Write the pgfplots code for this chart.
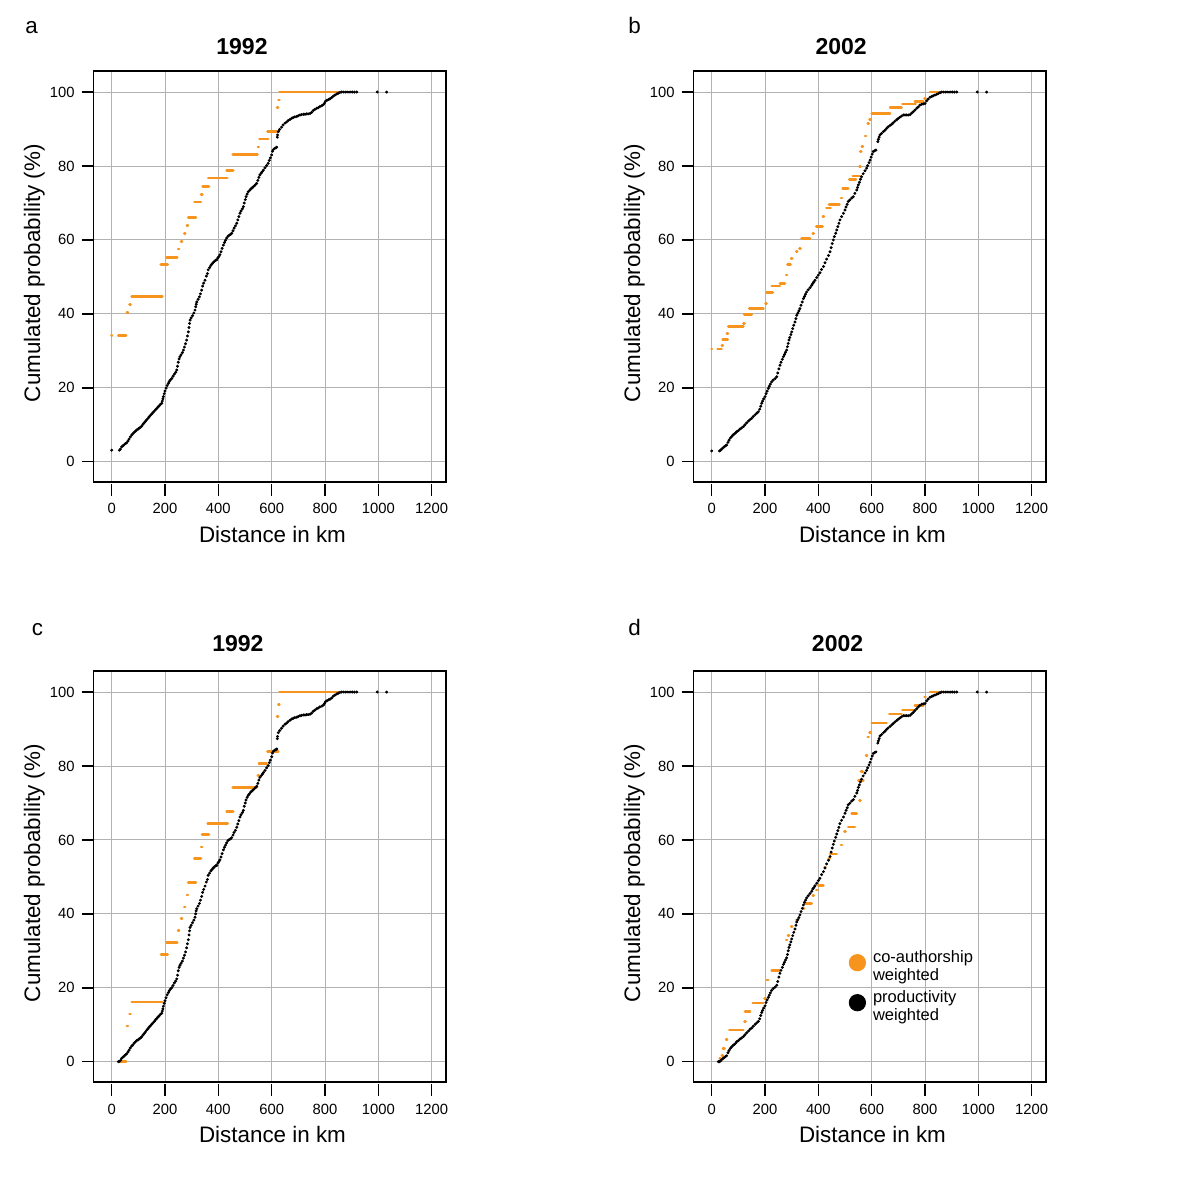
\documentclass[border=0pt]{standalone}
\usepackage{fontspec}
\setmainfont{Liberation Sans}
\usepackage{pgfplots}
\pgfplotsset{compat=1.18}
\definecolor{orangec}{RGB}{247,148,30}
\pgfplotsset{
  every axis title/.style={},
  panel/.style={
    scale only axis, width=176.35pt, height=205.5pt,
    xmin=-68.9, xmax=1253.7, ymin=-5.5, ymax=105.7,
    xtick={0,200,400,600,800,1000,1200},
    xticklabels={0,200,400,600,800,1000,1200},
    ytick={0,20,40,60,80,100},
    yticklabels={0,20,40,60,80,100},
    grid=major, major grid style={draw=black!30, line width=0.45pt},
    tick align=outside, tick pos=left, major tick length=5.8pt,
    every tick/.style={black, line width=0.8pt},
    xtick style={yshift=-1.15pt},
    axis line style={line width=0.75pt},
    tick label style={font=\fontsize{7.4}{8}\selectfont},
    xticklabel style={yshift=-1.5pt},
    label style={font=\fontsize{11.2}{13}\selectfont},
    xlabel={Distance in km}, ylabel={Cumulated probability (\%)},
    xlabel style={at={(axis description cs:0.508,-0.1484)}, anchor=base},
    ylabel style={at={(axis description cs:-0.1511,0.508)}, anchor=base},
    title style={font=\bfseries\fontsize{11.5}{13}\selectfont, anchor=base},
    unbounded coords=jump,
  },
  blk/.style={only marks, mark=*, mark size=0.52pt, black, forget plot},
  org/.style={orangec, line width=1.3pt, line cap=round, forget plot},
}
\begin{document}
\begin{tikzpicture}
\useasboundingbox (0,0) rectangle (600pt,600pt);
\node[anchor=base west, inner sep=0pt, font=\fontsize{11.2}{13}\selectfont] at (12.5pt,583.3pt) {a};
\node[anchor=base west, inner sep=0pt, font=\fontsize{11.2}{13}\selectfont] at (314pt,583.3pt) {b};
\node[anchor=base west, inner sep=0pt, font=\fontsize{11.2}{13}\selectfont] at (15.8pt,282pt) {c};
\node[anchor=base west, inner sep=0pt, font=\fontsize{11.2}{13}\selectfont] at (314pt,282pt) {d};

% ---------------- a ----------------
\begin{axis}[panel, at={(46.65pt,359pt)}, anchor=south west,
  title={1992}, title style={at={(axis description cs:0.4216,1)}, yshift=8pt}]
\addplot[org] coordinates {
(-1,34.1)(1,34.1) (nan,nan)
(25,34.1)(54,34.1) (nan,nan)
(57,40.4)(61,40.4) (nan,nan)
(67,42.5)(71,42.5) (nan,nan)
(75,44.7)(190,44.7) (nan,nan)
(184,53.3)(210,53.3) (nan,nan)
(206,55.3)(246,55.3) (nan,nan)
(249,57.5)(253,57.5) (nan,nan)
(260,59.6)(264,59.6) (nan,nan)
(272,61.8)(276,61.8) (nan,nan)
(282,63.9)(286,63.9) (nan,nan)
(287,66.0)(316,66.0) (nan,nan)
(310,70.3)(335,70.3) (nan,nan)
(335,72.3)(340,72.3) (nan,nan)
(341,74.5)(365,74.5) (nan,nan)
(362,76.7)(434,76.7) (nan,nan)
(431,78.8)(456,78.8) (nan,nan)
(454,83.1)(547,83.1) (nan,nan)
(548,85.1)(552,85.1) (nan,nan)
(554,87.3)(587,87.3) (nan,nan)
(584,89.4)(625,89.4) (nan,nan)
(620,95.8)(624,95.8) (nan,nan)
(625,97.9)(629,97.9) (nan,nan)
(629,100)(869,100)
};
\addplot[blk] coordinates {
(0,3.1)(29,3.1)(33,3.4)(37.5,4)(42,4.3)(47,4.6)(52,4.9)(56,5.1)(61,5.6)(65,6.1)(70,6.7)(75,7.2)(80,7.6)(85,8)(90,8.3)(94,8.6)(99,8.8)(103,9.1)(108,9.3)(112.5,9.6)(117,10.1)(122,10.5)(126,10.9)(131,11.3)(136,11.7)(140,12.1)(145,12.5)(150,12.9)(155,13.3)(160,13.7)(165,14.1)(169,14.4)(174,14.8)(178,15.1)(183,15.5)(187.5,15.8)(190,16.4)(192,17)(194,17.6)(197,18.4)(200,19.1)(204,19.9)(208,20.6)(212.5,21.2)(216,21.7)(220,22.1)(225,22.5)(230,23.1)(235,23.7)(240,24.2)(244,24.8)(247,25.8)(250,26.9)(253,27.8)(256,28.4)(260,28.9)(265,29.5)(269,30.2)(273,31)(277,31.9)(281,32.9)(284,34)(287.5,35.1)(290,36.3)(292,37.4)(294,38.3)(298,38.9)(303,39.5)(308,40.2)(312.5,41)(315,41.9)(317,42.6)(319,43.2)(324,43.9)(329,44.6)(333,45.4)(337.5,46.4)(341,47.5)(345,48.3)(350,49.1)(355,50.2)(359,50.9)(362,51.9)(367,52.5)(372,53.1)(376,53.5)(381,53.9)(385,54.2)(390,54.5)(394,54.6)(398,55.1)(402,55.5)(406,56)(410,56.8)(414,57.7)(419,58.6)(423,59.3)(427,59.9)(431,60.5)(436,61)(441,61.3)(446,61.5)(450,61.8)(455,62.5)(459,63.2)(464,63.8)(469,64.5)(473,65.4)(477,66.3)(481,67.2)(485,67.8)(490,68.4)(494,69)(497,70)(501,70.9)(504,71.7)(508,72.4)(512,73)(517,73.4)(522,73.8)(527,74.1)(531,74.4)(536,74.7)(540,75)(544,75.3)(548,76.1)(552,76.9)(556,77.6)(561,78.1)(565,78.5)(569,78.9)(575,79.5)(581,80.1)(587,80.7)(591,81.5)(595,82.2)(600,83)(603,84)(607,84.5)(612,84.8)(616,84.9)(619,85.1)(621,87.8)(622,88.4)(625,89.3)(630,89.9)(637,90.5)(643,91.1)(650,91.6)(656,91.9)(662,92.3)(669,92.6)(675,92.9)(681,93.1)(687,93.3)(694,93.4)(700,93.6)(706,93.8)(712,93.9)(719,94)(725,94)(731,94.1)(737,94.1)(744,94.2)(750,94.5)(756,95)(762,95.3)(769,95.6)(775,95.8)(781,96.1)(788,96.3)(794,96.6)(798,97)(802,97.5)(808,97.8)(814,98)(819,98.2)(825,98.5)(831,98.9)(837,99.2)(844,99.5)(850,99.7)(856,99.9)(862,100)(870,100)(878,100)(886,100)(894,100)(902,100)(910,100)(919,100)(996,100)(1031,100)
};
\end{axis}

% ---------------- b ----------------
\begin{axis}[panel, at={(346.65pt,359pt)}, anchor=south west,
  title={2002}, title style={at={(axis description cs:0.419,1)}, yshift=8pt}]
\addplot[org] coordinates {
(-1,30.5)(1,30.5) (nan,nan)
(22,30.5)(37,30.5) (nan,nan)
(38,31.4)(42,31.4) (nan,nan)
(41,33.1)(60,33.1) (nan,nan)
(57,34.7)(61,34.7) (nan,nan)
(62,36.5)(119,36.5) (nan,nan)
(119,37.4)(123,37.4) (nan,nan)
(122,39.8)(150,39.8) (nan,nan)
(141,41.5)(194,41.5) (nan,nan)
(202,42.8)(206,42.8) (nan,nan)
(206,45.7)(229,45.7) (nan,nan)
(225,47.5)(256,47.5) (nan,nan)
(256,48.2)(275,48.2) (nan,nan)
(279,50.5)(283,50.5) (nan,nan)
(284,53.4)(296,53.4) (nan,nan)
(298,55)(302,55) (nan,nan)
(317,56.8)(321,56.8) (nan,nan)
(329,57.7)(333,57.7) (nan,nan)
(337,60.3)(369,60.3) (nan,nan)
(379,61.8)(383,61.8) (nan,nan)
(392,63.6)(416,63.6) (nan,nan)
(417,66.3)(421,66.3) (nan,nan)
(430,68.6)(446,68.6) (nan,nan)
(440,69.5)(479,69.5) (nan,nan)
(485,71.3)(489,71.3) (nan,nan)
(491,73.9)(512,73.9) (nan,nan)
(516,76.4)(541,76.4) (nan,nan)
(529,77.3)(556,77.3) (nan,nan)
(554,79.8)(558,79.8) (nan,nan)
(557,83.9)(561,83.9) (nan,nan)
(563,85.2)(567,85.2) (nan,nan)
(575,88.1)(579,88.1) (nan,nan)
(585,91.5)(589,91.5) (nan,nan)
(592,92.6)(596,92.6) (nan,nan)
(600,94.2)(669,94.2) (nan,nan)
(669,95.9)(712,95.9) (nan,nan)
(715,96.8)(765,96.8) (nan,nan)
(762,97.5)(794,97.5) (nan,nan)
(798,98.3)(802,98.3) (nan,nan)
(819,100)(869,100)
};
\addplot[blk] coordinates {
(0,2.9)(29,2.9)(33,3.1)(37,3.4)(42,3.7)(47,4)(52,4.3)(56,4.5)(61,5.2)(65,5.8)(70,6.4)(75,6.8)(80,7.2)(85,7.5)(90,7.8)(94,8.1)(100,8.4)(106,8.8)(112,9.1)(119,9.5)(125,10)(131,10.5)(138,11)(144,11.4)(150,11.7)(156,12.2)(163,12.7)(169,13.1)(175,13.5)(180,14.2)(184,15)(187.5,15.8)(191,16.4)(195,17)(200,17.6)(204,18.4)(208,19.1)(212.5,19.8)(216,20.4)(220,21)(225,21.6)(231,22.1)(238,22.5)(244,23)(248,24)(252,25.1)(256,26.1)(260,26.9)(265,27.7)(269,28.4)(273,29)(277,29.6)(281,30.2)(284,31.1)(287,32)(290,32.9)(293,33.6)(297,34.4)(300,35.1)(304,36)(308,36.9)(312.5,37.8)(316,38.7)(319,39.6)(323,40.2)(327,40.8)(331,41.4)(335,42.3)(340,43.2)(344,44.1)(348,44.7)(352,45.3)(356,45.9)(362,46.5)(369,47.1)(375,47.7)(379,48.2)(383,48.6)(387.5,49.1)(394,49.8)(400,50.5)(406,51.1)(412,52)(419,52.8)(425,53.8)(431,54.8)(438,55.8)(444,56.8)(448,57.9)(452,59)(456,60)(460,60.9)(465,61.8)(469,62.7)(473,63.6)(477,64.5)(481,65.4)(487,66.3)(494,67.2)(500,68.1)(504,68.9)(508,69.6)(512,70.4)(518,70.8)(525,71.3)(531,71.7)(537,72.6)(544,73.5)(547,74.2)(550,74.9)(554,75.6)(558,76.4)(562,77.1)(568,77.9)(575,78.7)(581,79.4)(585,80.1)(590,80.9)(594,81.6)(598,82.4)(602,83.2)(606,83.9)(611,84.1)(616,84.3)(623,86.6)(625,87.2)(628,87.8)(631,88.4)(637,88.8)(644,89.3)(650,89.7)(656,90.2)(662,90.6)(669,91)(675,91.3)(681,91.7)(687,92.1)(694,92.5)(700,92.9)(706,93.2)(712,93.5)(719,93.8)(725,93.8)(731,93.8)(737,93.8)(744,93.9)(750,94.3)(756,94.7)(762,95.1)(769,95.6)(775,96)(781,96.5)(788,96.7)(794,96.8)(800,96.9)(806,97.6)(812,98.1)(819,98.6)(825,98.8)(831,99)(837,99.2)(844,99.4)(850,99.6)(856,99.8)(862,100)(870,100)(878,100)(886,100)(894,100)(902,100)(910,100)(919,100)(996,100)(1031,100)
};
\end{axis}

% ---------------- c ----------------
\begin{axis}[panel, at={(46.65pt,59pt)}, anchor=south west,
  title={1992}, title style={at={(axis description cs:0.41,1)}, yshift=9.7pt}]
\addplot[org] coordinates {
(29,0)(54,0) (nan,nan)
(57,9.7)(61,9.7) (nan,nan)
(67,12.9)(71,12.9) (nan,nan)
(75,16.1)(190,16.1) (nan,nan)
(185,29)(210,29) (nan,nan)
(206,32.3)(246,32.3) (nan,nan)
(249,35.5)(253,35.5) (nan,nan)
(260,38.7)(264,38.7) (nan,nan)
(272,41.9)(276,41.9) (nan,nan)
(282,45.1)(286,45.1) (nan,nan)
(287,48.4)(316,48.4) (nan,nan)
(310,54.9)(335,54.9) (nan,nan)
(335,58.1)(340,58.1) (nan,nan)
(339,61.4)(365,61.4) (nan,nan)
(360,64.5)(435,64.5) (nan,nan)
(431,67.7)(456,67.7) (nan,nan)
(454,74.1)(544,74.1) (nan,nan)
(548,77.4)(552,77.4) (nan,nan)
(552,80.6)(581,80.6) (nan,nan)
(584,83.9)(625,83.9) (nan,nan)
(620,93.4)(624,93.4) (nan,nan)
(625,96.7)(629,96.7) (nan,nan)
(629,100)(869,100)
};
\addplot[blk] coordinates {
(25,0)(29,0.1)(33,0.3)(37.5,0.9)(42,1.2)(47,1.5)(52,1.9)(56,2.1)(61,2.6)(65,3.1)(70,3.7)(75,4.2)(80,4.6)(85,5.1)(90,5.4)(94,5.7)(99,5.9)(103,6.2)(108,6.4)(112.5,6.7)(117,7.2)(122,7.6)(126,8)(131,8.5)(136,8.9)(140,9.3)(145,9.7)(150,10.1)(155,10.5)(160,10.9)(165,11.4)(169,11.7)(174,12.1)(178,12.4)(183,12.8)(187.5,13.1)(190,13.7)(192,14.3)(194,15)(197,15.8)(200,16.5)(204,17.3)(208,18.1)(212.5,18.7)(216,19.2)(220,19.6)(225,20)(230,20.6)(235,21.3)(240,21.8)(244,22.4)(247,23.4)(250,24.6)(253,25.5)(256,26.1)(260,26.6)(265,27.2)(269,28)(273,28.8)(277,29.7)(281,30.8)(284,31.9)(287.5,33)(290,34.3)(292,35.4)(294,36.3)(298,36.9)(303,37.6)(308,38.3)(312.5,39.1)(315,40)(317,40.8)(319,41.4)(324,42.1)(329,42.8)(333,43.7)(337.5,44.7)(341,45.8)(345,46.6)(350,47.5)(355,48.6)(359,49.3)(362,50.4)(367,51)(372,51.6)(376,52)(381,52.4)(385,52.7)(390,53)(394,53.1)(398,53.7)(402,54.1)(406,54.6)(410,55.4)(414,56.3)(419,57.3)(423,58)(427,58.6)(431,59.2)(436,59.8)(441,60.1)(446,60.3)(450,60.6)(455,61.3)(459,62)(464,62.6)(469,63.4)(473,64.3)(477,65.2)(481,66.2)(485,66.8)(490,67.4)(494,68)(497,69.1)(501,70)(504,70.8)(508,71.5)(512,72.1)(517,72.5)(522,73)(527,73.3)(531,73.6)(536,73.9)(540,74.2)(544,74.5)(548,75.3)(552,76.2)(556,76.9)(561,77.4)(565,77.8)(569,78.2)(575,78.8)(581,79.5)(587,80.1)(591,80.9)(595,81.6)(600,82.5)(603,83.5)(607,84)(612,84.3)(616,84.4)(619,84.6)(621,87.4)(622,88)(625,89)(630,89.6)(637,90.2)(643,90.8)(650,91.3)(656,91.6)(662,92)(669,92.4)(675,92.7)(681,92.9)(687,93.1)(694,93.2)(700,93.4)(706,93.6)(712,93.7)(719,93.8)(725,93.8)(731,93.9)(737,93.9)(744,94)(750,94.3)(756,94.8)(762,95.1)(769,95.5)(775,95.7)(781,96)(788,96.2)(794,96.5)(798,96.9)(802,97.4)(808,97.7)(814,97.9)(819,98.1)(825,98.4)(831,98.9)(837,99.2)(844,99.5)(850,99.7)(856,99.9)(862,100)(870,100)(878,100)(886,100)(894,100)(902,100)(910,100)(919,100)(996,100)(1031,100)
};
\end{axis}

% ---------------- d ----------------
\begin{axis}[panel, at={(346.65pt,59pt)}, anchor=south west,
  title={2002}, title style={at={(axis description cs:0.409,1)}, yshift=9.7pt},
  legend cell align=left,
  legend style={at={(axis cs:512.7,31.3)}, anchor=north west, draw=none, fill=none,
    inner sep=0pt, row sep=3.7pt, column sep=1.5pt,
    font=\fontsize{8.25}{8.8}\selectfont}]
\addplot[org] coordinates {
(30,0.9)(34,0.9) (nan,nan)
(38,1.6)(42,1.6) (nan,nan)
(42,3.6)(48,3.6) (nan,nan)
(54,6)(58,6) (nan,nan)
(66,8.6)(119,8.6) (nan,nan)
(123,10.8)(127,10.8) (nan,nan)
(125,13.5)(144,13.5) (nan,nan)
(154,15.9)(194,15.9) (nan,nan)
(198,17.1)(202,17.1) (nan,nan)
(207,22.1)(212,22.1) (nan,nan)
(225,24.6)(254,24.6) (nan,nan)
(279,32.9)(283,32.9) (nan,nan)
(286,34.2)(290,34.2) (nan,nan)
(298,36.5)(302,36.5) (nan,nan)
(317,38.3)(321,38.3) (nan,nan)
(342,41.4)(346,41.4) (nan,nan)
(350,42.8)(375,42.8) (nan,nan)
(379,45)(383,45) (nan,nan)
(392,46.4)(396,46.4) (nan,nan)
(400,47.7)(419,47.7) (nan,nan)
(423,52.7)(427,52.7) (nan,nan)
(439,55)(443,55) (nan,nan)
(444,56.2)(469,56.2) (nan,nan)
(485,58.6)(489,58.6) (nan,nan)
(498,62.2)(502,62.2) (nan,nan)
(512,63.5)(537,63.5) (nan,nan)
(525,67.1)(544,67.1) (nan,nan)
(554,70.7)(558,70.7) (nan,nan)
(550,76.1)(569,76.1) (nan,nan)
(560,78.5)(566,78.5) (nan,nan)
(579,82.8)(583,82.8) (nan,nan)
(585,87.8)(589,87.8) (nan,nan)
(592,89.1)(596,89.1) (nan,nan)
(600,91.6)(656,91.6) (nan,nan)
(666,94.1)(712,94.1) (nan,nan)
(715,95.1)(765,95.1) (nan,nan)
(762,96.4)(794,96.4) (nan,nan)
(798,98.7)(802,98.7) (nan,nan)
(819,100)(869,100)
};
\addplot[blk] coordinates {
(25,0)(29,0)(33,0.2)(37,0.5)(42,0.8)(47,1.1)(52,1.4)(56,1.6)(61,2.4)(65,3)(70,3.6)(75,4)(80,4.4)(85,4.7)(90,5)(94,5.4)(100,5.7)(106,6.1)(112,6.4)(119,6.8)(125,7.3)(131,7.8)(138,8.3)(144,8.8)(150,9.1)(156,9.6)(163,10.1)(169,10.5)(175,10.9)(180,11.6)(184,12.5)(187.5,13.3)(191,13.9)(195,14.5)(200,15.1)(204,16)(208,16.7)(212.5,17.4)(216,18)(220,18.6)(225,19.3)(231,19.8)(238,20.2)(244,20.7)(248,21.7)(252,22.9)(256,23.9)(260,24.7)(265,25.5)(269,26.3)(273,26.9)(277,27.5)(281,28.1)(284,29)(287,30)(290,30.9)(293,31.6)(297,32.4)(300,33.2)(304,34.1)(308,35)(312.5,35.9)(316,36.9)(319,37.8)(323,38.4)(327,39)(331,39.7)(335,40.6)(340,41.5)(344,42.4)(348,43.1)(352,43.7)(356,44.3)(362,44.9)(369,45.5)(375,46.1)(379,46.7)(383,47.1)(387.5,47.6)(394,48.3)(400,49)(406,49.6)(412,50.6)(419,51.4)(425,52.4)(431,53.5)(438,54.5)(444,55.5)(448,56.7)(452,57.8)(456,58.8)(460,59.7)(465,60.7)(469,61.6)(473,62.5)(477,63.4)(481,64.4)(487,65.3)(494,66.2)(500,67.2)(504,68)(508,68.7)(512,69.5)(518,69.9)(525,70.5)(531,70.9)(537,71.8)(544,72.7)(547,73.4)(550,74.2)(554,74.9)(558,75.7)(562,76.4)(568,77.3)(575,78.1)(581,78.8)(585,79.5)(590,80.3)(594,81)(598,81.9)(602,82.7)(606,83.4)(611,83.6)(616,83.8)(623,86.2)(625,86.8)(628,87.4)(631,88.1)(637,88.5)(644,89)(650,89.4)(656,89.9)(662,90.3)(669,90.7)(675,91.1)(681,91.5)(687,91.9)(694,92.3)(700,92.7)(706,93)(712,93.3)(719,93.6)(725,93.6)(731,93.6)(737,93.6)(744,93.7)(750,94.1)(756,94.5)(762,95)(769,95.5)(775,96)(781,96.4)(788,96.7)(794,96.8)(800,96.9)(806,97.6)(812,98.1)(819,98.6)(825,98.8)(831,99)(837,99.2)(844,99.4)(850,99.6)(856,99.8)(862,100)(870,100)(878,100)(886,100)(894,100)(902,100)(910,100)(919,100)(996,100)(1031,100)
};
\addlegendimage{legend image code/.code={\fill[orangec] (0pt,0pt) circle (4.1pt);}}
\addlegendentry{\begin{tabular}{@{}l@{}}co-authorship\\weighted\end{tabular}}
\addlegendimage{legend image code/.code={\fill[black] (0pt,0pt) circle (4.1pt);}}
\addlegendentry{\begin{tabular}{@{}l@{}}productivity\\weighted\end{tabular}}
\end{axis}
\end{tikzpicture}
\end{document}
